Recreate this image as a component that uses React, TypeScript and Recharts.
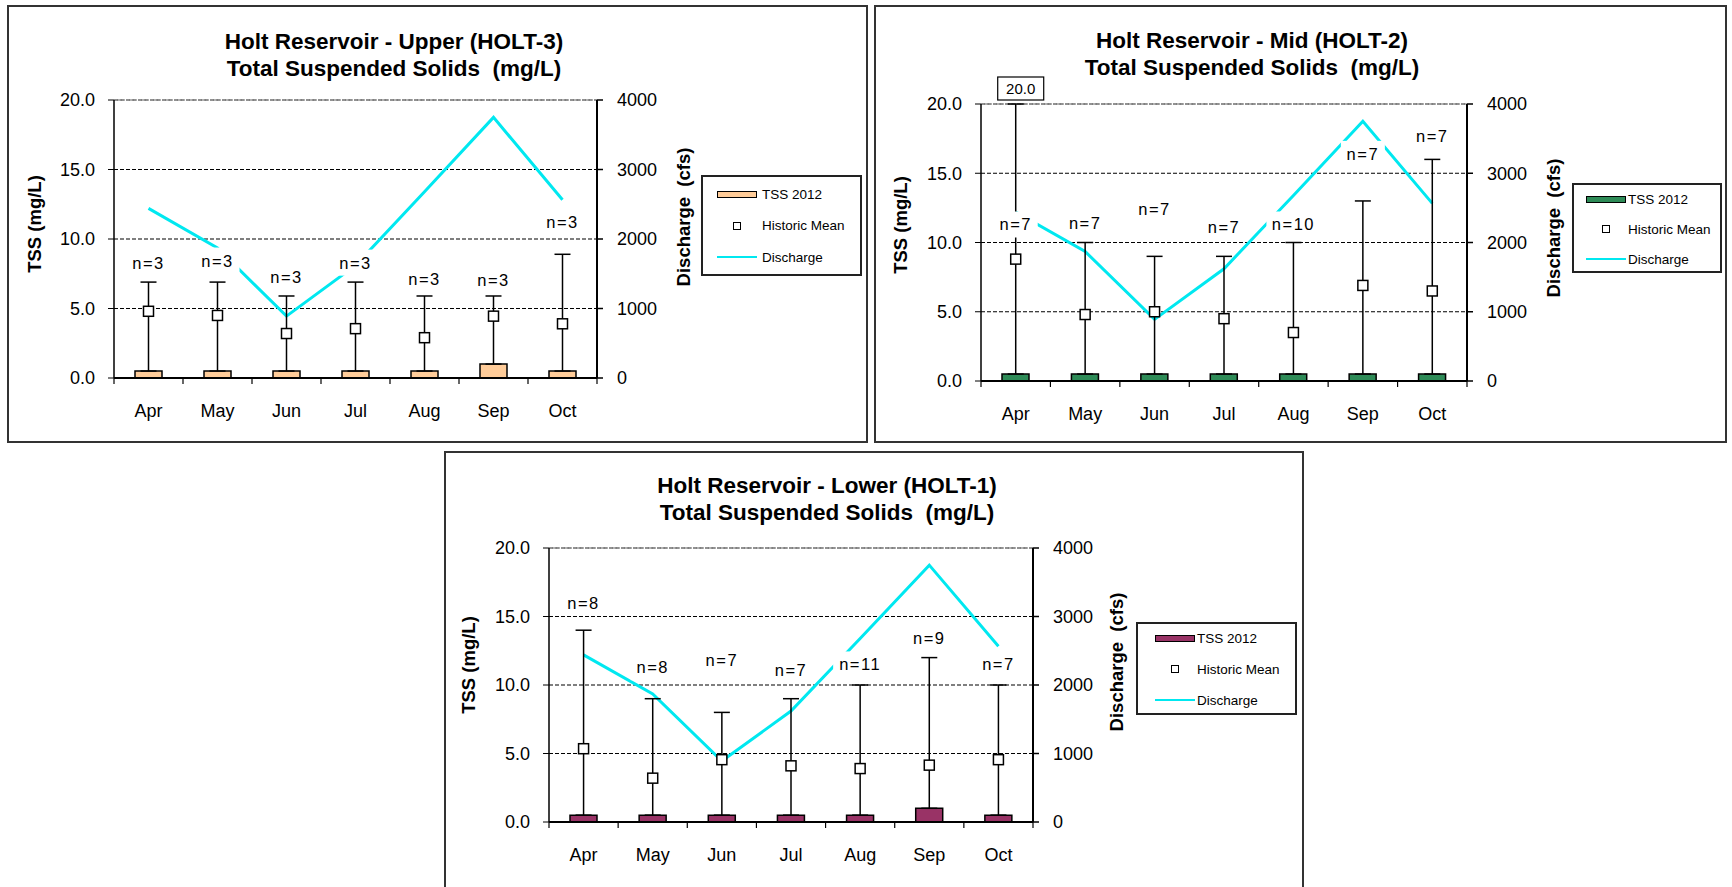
import React from "react";
import {
  ComposedChart,
  Bar,
  Line,
  Scatter,
  ErrorBar,
  XAxis,
  YAxis,
  CartesianGrid,
  ReferenceLine,
  LabelList,
} from "recharts";

const FONT = "Arial, 'Liberation Sans', sans-serif";
const CYAN = "#00E8F0";

// ---- data ----
const months = ["Apr", "May", "Jun", "Jul", "Aug", "Sep", "Oct"];
const discharge = [2440, 1870, 890, 1620, 2680, 3750, 2565];

// Upper (HOLT-3)
const upperTss = [0.5, 0.5, 0.5, 0.5, 0.5, 1.0, 0.5];
const upperMean = [4.8, 4.5, 3.2, 3.55, 2.9, 4.45, 3.9];
const upperMin = [0.5, 0.5, 0.5, 0.5, 0.5, 1.0, 0.5];
const upperMax = [6.9, 6.9, 5.9, 6.9, 5.9, 5.9, 8.9];
const upperN = [3, 3, 3, 3, 3, 3, 3];
const upperNPos = [8.3, 8.45, 7.3, 8.3, 7.15, 7.05, 11.2];

// Mid (HOLT-2)
const midTss = [0.5, 0.5, 0.5, 0.5, 0.5, 0.5, 0.5];
const midMean = [8.8, 4.8, 5.0, 4.5, 3.5, 6.9, 6.5];
const midMin = [0.5, 0.5, 0.5, 0.5, 0.5, 0.5, 0.5];
const midMax = [20, 10, 9, 9, 10, 13, 16];
const midN = [7, 7, 7, 7, 10, 7, 7];
const midNPos = [11.3, 11.4, 12.4, 11.1, 11.3, 16.4, 17.7];
const midNote = [20.0, null, null, null, null, null, null];

// Lower (HOLT-1)
const lowTss = [0.5, 0.5, 0.5, 0.5, 0.5, 1.0, 0.5];
const lowMean = [5.35, 3.2, 4.55, 4.1, 3.9, 4.15, 4.55];
const lowMin = [0.5, 0.5, 0.5, 0.5, 0.5, 1.0, 0.5];
const lowMax = [14, 9, 8, 9, 10, 12, 10];
const lowN = [8, 8, 7, 7, 11, 9, 7];
const lowNPos = [16.0, 11.3, 11.8, 11.1, 11.5, 13.4, 11.5];

const tssTicks = [0, 5, 10, 15, 20];
const flowTicks = [0, 1000, 2000, 3000, 4000];

const buildRows = (
  tss: number[],
  mean: number[],
  min: number[],
  max: number[],
  n: number[],
  nPos: number[],
  note?: (number | null)[]
) =>
  months.map((m, i) => ({
    month: m,
    tss: tss[i],
    mean: mean[i],
    err: [mean[i] - min[i], max[i] - mean[i]],
    discharge: discharge[i],
    n: n[i],
    nPos: nPos[i],
    note: note ? note[i] : null,
  }));

const NLabel = (props: any) => {
  const { x, y, value } = props;
  if (value == null || x == null || y == null) return null;
  const text = `n=${value}`;
  const w = text.length * 10 + 14;
  return (
    <g>
      <rect x={x - w / 2} y={y - 13} width={w} height={26} fill="#fff" />
      <text
        x={x}
        y={y}
        dy={6}
        textAnchor="middle"
        fontSize={16.5}
        letterSpacing={1.5}
        fontFamily={FONT}
        fill="#000"
      >
        {text}
      </text>
    </g>
  );
};

const NoteLabel = (props: any) => {
  const { x, y, value } = props;
  if (value == null || x == null || y == null) return null;
  return (
    <g>
      <rect x={x - 18} y={y - 27} width={46} height={23} fill="#fff" stroke="#000" strokeWidth={1.2} />
      <text x={x + 5} y={y - 15.5} dy={5.5} textAnchor="middle" fontSize={15} fontFamily={FONT} fill="#000">
        {Number(value).toFixed(1)}
      </text>
    </g>
  );
};

const MeanMarker = (props: any) => {
  const { cx, cy } = props;
  if (cx == null || cy == null) return <g />;
  return <rect x={cx - 5} y={cy - 5} width={10} height={10} fill="#fff" stroke="#000" strokeWidth={1.5} />;
};

type Cfg = {
  box: { x: number; y: number; w: number; h: number };
  plot: { l: number; r: number; t: number; b: number };
  title: { cx: number; base: number };
  legend: { x: number; y: number; w: number; h: number; first: number; step: number; swX: number; txX: number };
  tssLabel: [number, number];
  flowLabel: [number, number];
};

const Panel: React.FC<{ cfg: Cfg; name: string; rows: any[]; color: string }> = ({ cfg, name, rows, color }) => {
  const { box, plot, title, legend } = cfg;
  const ox = box.x + 2;
  const oy = box.y + 2;
  const W = box.w - 4;
  const H = box.h - 4;
  const l = plot.l - ox;
  const r = plot.r - ox;
  const t = plot.t - oy;
  const b = plot.b - oy;
  const YW = 60;
  const XH = 40;
  const margin = { left: l - YW, right: W - r - YW, top: t, bottom: H - b - XH };
  const bw = (r - l) / months.length;

  const monthTick = (p: any) => (
    <g>
      <line x1={p.x - bw / 2} x2={p.x - bw / 2} y1={p.y} y2={p.y + 6} stroke="#000" strokeWidth={1.2} />
      {p.index === months.length - 1 && (
        <line x1={p.x + bw / 2} x2={p.x + bw / 2} y1={p.y} y2={p.y + 6} stroke="#000" strokeWidth={1.2} />
      )}
      <text x={p.x} y={p.y + 39} textAnchor="middle" fontSize={18} fontFamily={FONT} fill="#000">
        {p.payload.value}
      </text>
    </g>
  );

  const tickStyle = { fontSize: 18, fill: "#000", fontFamily: FONT };

  const legendItems = [
    {
      key: "TSS 2012",
      icon: <div style={{ width: 40, height: 7, background: color, border: "1.5px solid #000", boxSizing: "border-box" }} />,
    },
    {
      key: "Historic Mean",
      icon: (
        <div style={{ width: 40, display: "flex", justifyContent: "center" }}>
          <div style={{ width: 8, height: 8, background: "#fff", border: "1.5px solid #000", boxSizing: "border-box" }} />
        </div>
      ),
    },
    { key: "Discharge", icon: <div style={{ width: 40, height: 2.5, background: CYAN }} /> },
  ];

  return (
    <div
      style={{
        position: "absolute",
        left: box.x,
        top: box.y,
        width: box.w,
        height: box.h,
        border: "2px solid #333",
        boxSizing: "border-box",
        background: "#fff",
        fontFamily: FONT,
      }}
    >
      <div
        style={{
          position: "absolute",
          left: title.cx - ox - 300,
          top: title.base - oy - 21.4,
          width: 600,
          textAlign: "center",
          fontWeight: "bold",
          fontSize: 22.5,
          lineHeight: "27px",
          whiteSpace: "pre",
          color: "#000",
        }}
      >
        {name + "\nTotal Suspended Solids  (mg/L)"}
      </div>

      <div style={{ position: "absolute", left: 0, top: 0 }}>
        <ComposedChart width={W} height={H} data={rows} margin={margin}>
          <CartesianGrid yAxisId="left" vertical={false} stroke="#000" strokeWidth={1.1} strokeDasharray="4 2" />
          <XAxis
            dataKey="month"
            height={XH}
            interval={0}
            tickSize={0}
            tickMargin={0}
            tickLine={false}
            axisLine={{ stroke: "#000", strokeWidth: 2 }}
            tick={monthTick}
          />
          <YAxis
            yAxisId="left"
            width={YW}
            domain={[0, 20]}
            ticks={tssTicks}
            tickFormatter={(v: number) => v.toFixed(1)}
            tick={tickStyle}
            tickSize={6}
            tickMargin={13}
            axisLine={{ stroke: "#000", strokeWidth: 1.5 }}
            tickLine={{ stroke: "#000" }}
          />
          <YAxis
            yAxisId="right"
            orientation="right"
            width={YW}
            domain={[0, 4000]}
            ticks={flowTicks}
            tick={tickStyle}
            tickSize={6}
            tickMargin={14}
            axisLine={{ stroke: "#000", strokeWidth: 2 }}
            tickLine={{ stroke: "#000", strokeWidth: 1.5 }}
          />
          <ReferenceLine yAxisId="left" y={20} stroke="#999" strokeWidth={1.5} strokeDasharray="3 1" />
          <Bar
            yAxisId="left"
            dataKey="tss"
            fill={color}
            stroke="#000"
            strokeWidth={1.5}
            barSize={27}
            isAnimationActive={false}
          />
          <Line
            yAxisId="right"
            dataKey="discharge"
            stroke={CYAN}
            strokeWidth={3}
            dot={false}
            activeDot={false}
            isAnimationActive={false}
          />
          <Scatter yAxisId="left" dataKey="mean" shape={MeanMarker} isAnimationActive={false}>
            <ErrorBar
              dataKey="err"
              direction="y"
              width={8}
              stroke="#000"
              strokeWidth={1.5}
              isAnimationActive={false}
            />
          </Scatter>
          <Line
            yAxisId="left"
            dataKey="nPos"
            stroke="none"
            dot={false}
            activeDot={false}
            isAnimationActive={false}
          >
            <LabelList dataKey="n" content={NLabel} />
          </Line>
          <Line
            yAxisId="left"
            dataKey="note"
            stroke="none"
            dot={false}
            activeDot={false}
            isAnimationActive={false}
          >
            <LabelList dataKey="note" content={NoteLabel} />
          </Line>
        </ComposedChart>
      </div>

      <div
        style={{
          position: "absolute",
          left: cfg.tssLabel[0] - ox,
          top: cfg.tssLabel[1] - oy,
          transform: "translate(-50%,-50%) rotate(-90deg)",
          whiteSpace: "pre",
          fontWeight: "bold",
          fontSize: 18.5,
          color: "#000",
        }}
      >
        TSS (mg/L)
      </div>
      <div
        style={{
          position: "absolute",
          left: cfg.flowLabel[0] - ox,
          top: cfg.flowLabel[1] - oy,
          transform: "translate(-50%,-50%) rotate(-90deg)",
          whiteSpace: "pre",
          fontWeight: "bold",
          fontSize: 18.5,
          color: "#000",
        }}
      >
        {"Discharge  (cfs)"}
      </div>

      <div
        style={{
          position: "absolute",
          left: legend.x - ox,
          top: legend.y - oy,
          width: legend.w,
          height: legend.h,
          border: "2px solid #222",
          boxSizing: "border-box",
          background: "#fff",
        }}
      >
        {legendItems.map((it, i) => (
          <div
            key={it.key}
            style={{
              position: "absolute",
              left: legend.swX - 2,
              top: legend.first + i * legend.step - 2 - 10,
              height: 20,
              display: "flex",
              alignItems: "center",
            }}
          >
            {it.icon}
            <span
              style={{
                position: "absolute",
                left: legend.txX - legend.swX,
                whiteSpace: "nowrap",
                fontSize: 13.5,
                color: "#000",
              }}
            >
              {it.key}
            </span>
          </div>
        ))}
      </div>
    </div>
  );
};

const upperCfg: Cfg = {
  box: { x: 7, y: 5, w: 861, h: 438 },
  plot: { l: 114, r: 597, t: 100, b: 378 },
  title: { cx: 394, base: 49.5 },
  legend: { x: 701, y: 175, w: 161, h: 101, first: 19, step: 31.5, swX: 16, txX: 61 },
  tssLabel: [35, 224],
  flowLabel: [683.5, 217],
};

const midCfg: Cfg = {
  box: { x: 874, y: 5, w: 853, h: 438 },
  plot: { l: 981, r: 1467, t: 104, b: 381 },
  title: { cx: 1252, base: 48.5 },
  legend: { x: 1572, y: 183, w: 150, h: 90, first: 16, step: 30, swX: 14, txX: 56 },
  tssLabel: [901, 225],
  flowLabel: [1553.5, 228],
};

const lowCfg: Cfg = {
  box: { x: 444, y: 451, w: 860, h: 440 },
  plot: { l: 549, r: 1033, t: 548, b: 822 },
  title: { cx: 827, base: 493 },
  legend: { x: 1136, y: 622, w: 161, h: 93, first: 16, step: 31, swX: 19, txX: 61 },
  tssLabel: [468.5, 665],
  flowLabel: [1116.5, 662],
};

export default function App() {
  const upperRows = buildRows(upperTss, upperMean, upperMin, upperMax, upperN, upperNPos);
  const midRows = buildRows(midTss, midMean, midMin, midMax, midN, midNPos, midNote);
  const lowRows = buildRows(lowTss, lowMean, lowMin, lowMax, lowN, lowNPos);

  return (
    <div
      style={{
        position: "absolute",
        left: 0,
        top: 0,
        width: 1732,
        height: 887,
        overflow: "hidden",
        background: "#fff",
      }}
    >
      <Panel cfg={upperCfg} name="Holt Reservoir - Upper (HOLT-3)" rows={upperRows} color="#FFCC99" />
      <Panel cfg={midCfg} name="Holt Reservoir - Mid (HOLT-2)" rows={midRows} color="#2E8B57" />
      <Panel cfg={lowCfg} name="Holt Reservoir - Lower (HOLT-1)" rows={lowRows} color="#993366" />
    </div>
  );
}
